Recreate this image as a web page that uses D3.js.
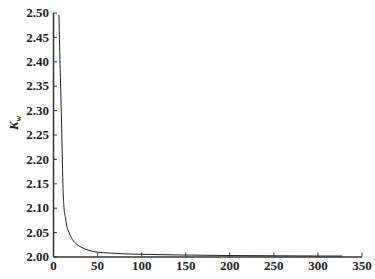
<!DOCTYPE html>
<html>
<head>
<meta charset="utf-8">
<script src="https://cdn.jsdelivr.net/npm/d3@7"></script>
<style>
  body { margin: 0; background: #fff; }
  svg text { font-family: "Liberation Serif", "DejaVu Serif", serif; fill: #222; }
</style>
</head>
<body>
<div id="chart"></div>
<script>
// values
const xValues = [6.8, 7.5, 8.5, 9.5, 10.5, 11.2, 12.5, 14, 16, 18, 22, 27, 32, 40, 50, 65, 80, 100, 150, 200, 250, 300, 328];
const kwValues = [2.495, 2.43, 2.36, 2.29, 2.21, 2.15, 2.10, 2.08, 2.06, 2.05, 2.035, 2.025, 2.019, 2.013, 2.009, 2.007, 2.0055, 2.0045, 2.003, 2.002, 2.0015, 2.001, 2.001];
const xTicks = [0, 50, 100, 150, 200, 250, 300, 350];
const yTicks = [2.00, 2.05, 2.10, 2.15, 2.20, 2.25, 2.30, 2.35, 2.40, 2.45, 2.50];

const svgWidth = 375;
const svgHeight = 279;
const margin = { top: 12.5, right: 13.5, bottom: 22.5, left: 53 };
const chartWidth = svgWidth - margin.left - margin.right;
const chartHeight = svgHeight - margin.top - margin.bottom;

const svg = d3.select('#chart')
  .append('svg')
  .attr('width', svgWidth)
  .attr('height', svgHeight);

const chartGroup = svg.append('g')
  .attr('transform', `translate(${margin.left}, ${margin.top})`);

const xScale = d3.scaleLinear().domain([0, 350]).range([0, chartWidth]);
const yScale = d3.scaleLinear().domain([2.0, 2.5]).range([chartHeight, 0]);

// axes with ticks pointing inward
const xAxis = d3.axisBottom(xScale).tickValues(xTicks).tickSizeInner(-4).tickSizeOuter(0).tickPadding(6);
const yAxis = d3.axisLeft(yScale).tickValues(yTicks).tickSizeInner(-4).tickSizeOuter(0).tickPadding(4)
  .tickFormat(d3.format('.2f'));

const gx = chartGroup.append('g')
  .attr('transform', `translate(0, ${chartHeight})`)
  .call(xAxis);
const gy = chartGroup.append('g').call(yAxis);

[gx, gy].forEach(g => {
  g.select('.domain').attr('stroke', '#333').attr('stroke-width', 1.5);
  g.selectAll('.tick line').attr('stroke', '#333').attr('stroke-width', 1);
  g.selectAll('.tick text')
    .attr('font-family', '"Liberation Serif", serif')
    .attr('font-size', 13)
    .attr('font-weight', 'bold')
    .attr('fill', '#222');
});
gx.selectAll('.tick text').attr('dy', '0.6em');

// the curve
const line = d3.line()
  .x((d, i) => xScale(xValues[i]))
  .y(d => yScale(d))
  .curve(d3.curveMonotoneX);

chartGroup.append('path')
  .datum(kwValues)
  .attr('fill', 'none')
  .attr('stroke', '#222')
  .attr('stroke-width', 1)
  .attr('d', line);

// y label K_w
const yLabel = svg.append('text')
  .attr('transform', 'translate(18, 123) rotate(-90)')
  .attr('text-anchor', 'middle')
  .attr('font-size', 13)
  .attr('font-style', 'italic')
  .attr('font-weight', 'bold');
yLabel.append('tspan').text('K');
yLabel.append('tspan').attr('font-size', 8).attr('dy', 3).text('w');
</script>
</body>
</html>
